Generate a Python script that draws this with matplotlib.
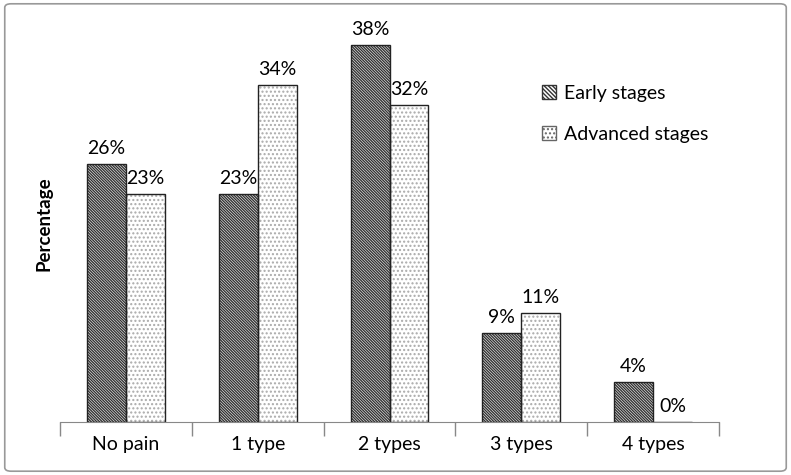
import numpy as np
import matplotlib.pyplot as plt
from matplotlib.patches import FancyBboxPatch

plt.rcParams['font.family'] = ['Lato', 'DejaVu Sans']
plt.rcParams['hatch.linewidth'] = 1.0

categories = ['No pain', '1 type', '2 types', '3 types', '4 types']
early = [26, 23, 38, 9, 4]
advanced = [23, 34, 32, 11, 0]

fig = plt.figure(figsize=(7.91, 4.75), dpi=100)
ax = fig.add_axes([0.0759, 0.1116, 0.8331, 0.835])

x = np.arange(len(categories))
w = 0.295

# hatch layer first (grey lines), then a black outline on top
ax.bar(x - w / 2, early, w, color='white', edgecolor='#333333',
       hatch='\\' * 12, linewidth=0)
ax.bar(x + w / 2, advanced, w, color='white', edgecolor='#aaaaaa',
       hatch='....', linewidth=0)
b1 = ax.bar(x - w / 2, early, w, fill=False, edgecolor='#222222',
            linewidth=1.0)
b2 = ax.bar(x + w / 2, advanced, w, fill=False, edgecolor='#222222',
            linewidth=1.0)

# legend proxies
h1 = plt.Rectangle((0, 0), 1, 1, facecolor='white', edgecolor='#333333',
                   hatch='\\' * 8, linewidth=1)
h2 = plt.Rectangle((0, 0), 1, 1, facecolor='white', edgecolor='#666666',
                   hatch='....', linewidth=1)

for bars, vals in ((b1, early), (b2, advanced)):
    for rect, v in zip(bars, vals):
        ax.annotate(f'{v}%', (rect.get_x() + rect.get_width() / 2, v),
                    xytext=(0, 5), textcoords='offset points',
                    ha='center', va='bottom', fontsize=14)

ax.set_xlim(-0.5, len(categories) - 0.5)
ax.set_ylim(0, 40)
ax.set_xticks(np.arange(-0.5, len(categories)), minor=False)
ax.set_xticklabels([])
ax.set_xticks(x, minor=True)
ax.set_xticklabels(categories, minor=True, fontsize=14)
ax.tick_params(axis='x', which='major', length=10, width=1, color='#888888')
ax.tick_params(axis='x', which='minor', length=0, pad=10)
ax.set_yticks([])
for s in ('top', 'right', 'left'):
    ax.spines[s].set_visible(False)
ax.spines['bottom'].set_color('#888888')
ax.set_ylabel('Percentage', fontsize=13.5, fontweight='bold', labelpad=0)
ax.yaxis.set_label_coords(-0.012, 0.5)

ax.legend([h1, h2], ['Early stages', 'Advanced stages'],
          loc='upper left', bbox_to_anchor=(0.705, 0.895), frameon=False,
          fontsize=14, handlelength=0.7, handleheight=0.7,
          labelspacing=1.25, handletextpad=0.4)

border = FancyBboxPatch((0.006, 0.008), 0.988, 0.984,
                        boxstyle='round,pad=0,rounding_size=0.008',
                        transform=fig.transFigure, fill=False,
                        edgecolor='#999999', linewidth=1.2)
fig.patches.append(border)

fig.savefig('out.png', dpi=100)
